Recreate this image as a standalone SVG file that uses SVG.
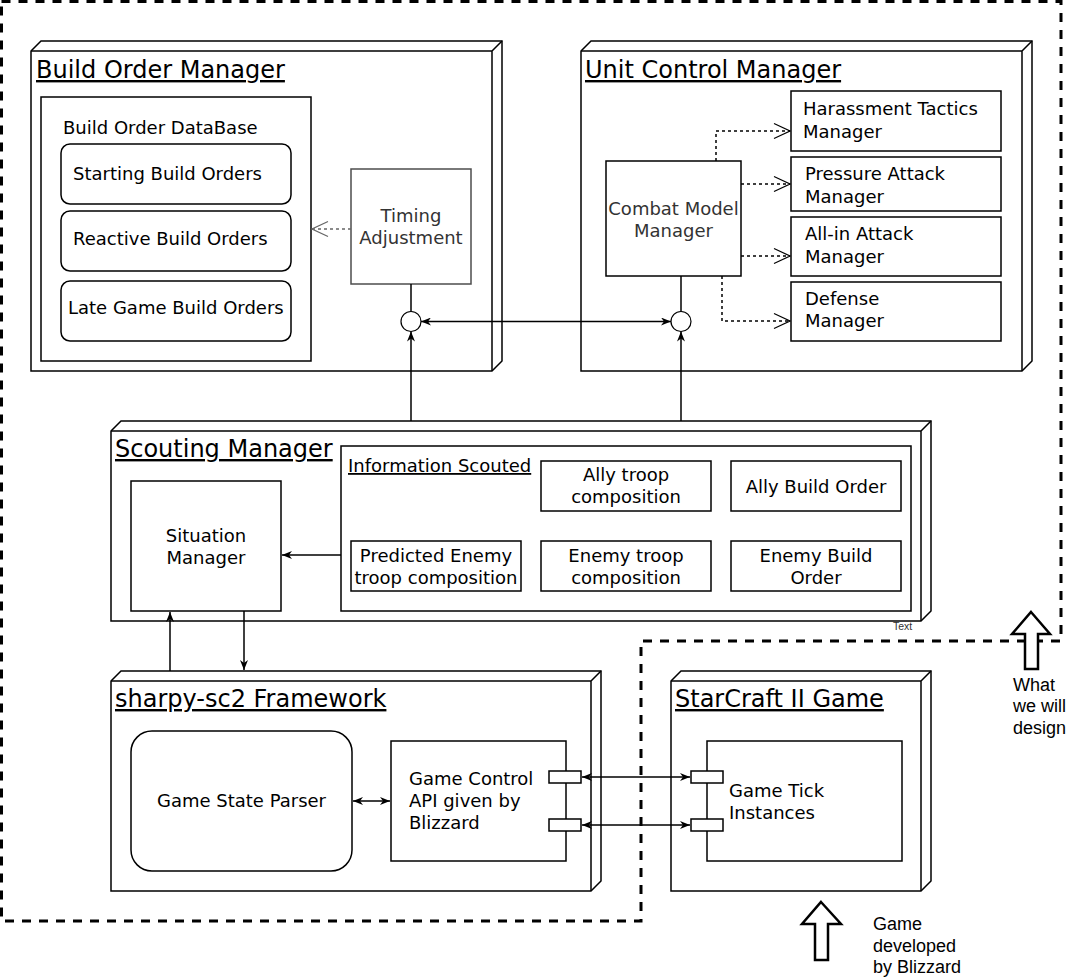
<svg xmlns="http://www.w3.org/2000/svg" width="1072" height="979" viewBox="0 0 1072 979">
<style>
.n3{fill:#fff;stroke:#000;stroke-width:1.5}
.edge{fill:none;stroke:#000;stroke-width:1.5}
.box{fill:#fff;stroke:#000;stroke-width:1.5}
.t{font-family:"DejaVu Sans",Verdana,sans-serif;font-size:18px;fill:#000}
.tt{font-family:"DejaVu Sans",Verdana,sans-serif;font-size:24px;fill:#000;text-decoration:underline}
.u{text-decoration:underline}
.c{text-anchor:middle}
.g{fill:#333}
.conn{fill:none;stroke:#000;stroke-width:1.5}
.dash{stroke-dasharray:3 3}
.note{font-family:"Liberation Sans",Arial,sans-serif;font-size:18px;fill:#000}
.blk{fill:#fff;stroke:#000;stroke-width:2.5;stroke-linejoin:miter}
</style>
<defs>
<marker id="arr" viewBox="0 0 10 8" refX="10" refY="4" markerWidth="10" markerHeight="8" markerUnits="userSpaceOnUse" orient="auto-start-reverse"><path d="M0,0 L10,4 L0,8 L3,4 Z" fill="#000"/></marker>
<marker id="open" viewBox="0 0 18 18" refX="17" refY="9" markerWidth="18" markerHeight="18" markerUnits="userSpaceOnUse" orient="auto"><path d="M1,1.5 L17,9 L1,16.5" fill="none" stroke="#000" stroke-width="1.2"/></marker>
<marker id="openg" viewBox="0 0 18 18" refX="17" refY="9" markerWidth="18" markerHeight="18" markerUnits="userSpaceOnUse" orient="auto"><path d="M1,1.5 L17,9 L1,16.5" fill="none" stroke="#666" stroke-width="1.2"/></marker>
</defs>

<g id="boundary">
<path d="M1.5,1.5 H1061 V641 H641 V921 H1.5 Z" fill="none" stroke="#000" stroke-width="3" stroke-dasharray="9 8"/>
</g>

<g id="build-order-manager">
<path class="n3" d="M31,51 L41,41 H502 V361 L492,371 H31 Z"/>
<path class="edge" d="M31,51 H492 L502,41 M492,51 V371"/>
<text class="tt" x="36" y="78">Build Order Manager</text>
<g id="build-order-database">
<rect class="box" x="41" y="97" width="270" height="264"/>
<text class="t" x="63" y="134">Build Order DataBase</text>
<rect class="box" x="61" y="144" width="230" height="60" rx="9"/>
<text class="t" x="73" y="180">Starting Build Orders</text>
<rect class="box" x="61" y="211" width="230" height="60" rx="9"/>
<text class="t" x="73" y="245">Reactive Build Orders</text>
<rect class="box" x="61" y="281" width="230" height="60" rx="9"/>
<text class="t" x="68" y="314">Late Game Build Orders</text>
</g>
<g id="timing-adjustment">
<rect x="351" y="169" width="120" height="115" fill="#fff" stroke="#4d4d4d" stroke-width="1.5"/>
<text class="t c g" x="411" y="222">Timing</text>
<text class="t c g" x="411" y="243.5">Adjustment</text>
</g>
<circle id="bom-port" cx="411" cy="321.5" r="10" fill="#fff" stroke="#000" stroke-width="1.2"/>
</g>

<g id="unit-control-manager">
<path class="n3" d="M581,51 L591,41 H1032 V361 L1022,371 H581 Z"/>
<path class="edge" d="M581,51 H1022 L1032,41 M1022,51 V371"/>
<text class="tt" x="585" y="78">Unit Control Manager</text>
<g id="combat-model-manager">
<rect class="box" x="606" y="161" width="135" height="115"/>
<text class="t c g" x="673.5" y="215">Combat Model</text>
<text class="t c g" x="673.5" y="236.5">Manager</text>
</g>
<g id="harassment">
<rect class="box" x="791" y="91" width="210" height="60"/>
<text class="t" x="803" y="115">Harassment Tactics</text>
<text class="t" x="803" y="137.5">Manager</text>
</g>
<g id="pressure">
<rect class="box" x="791" y="157" width="210" height="54"/>
<text class="t" x="805" y="180">Pressure Attack</text>
<text class="t" x="805" y="202.5">Manager</text>
</g>
<g id="allin">
<rect class="box" x="791" y="217" width="210" height="59"/>
<text class="t" x="805" y="240">All-in Attack</text>
<text class="t" x="805" y="262.5">Manager</text>
</g>
<g id="defense">
<rect class="box" x="791" y="282" width="210" height="59"/>
<text class="t" x="805" y="304.5">Defense</text>
<text class="t" x="805" y="327">Manager</text>
</g>
<circle id="ucm-port" cx="681" cy="321.5" r="10" fill="#fff" stroke="#000" stroke-width="1.2"/>
</g>

<g id="scouting-manager">
<path class="n3" d="M111,431 L121,421 H931 V611 L921,621 H111 Z"/>
<path class="edge" d="M111,431 H921 L931,421 M921,431 V621"/>
<text class="tt" x="115" y="457">Scouting Manager</text>
<g id="situation-manager">
<rect class="box" x="131" y="481" width="150" height="130"/>
<text class="t c" x="206" y="541.5">Situation</text>
<text class="t c" x="206" y="564">Manager</text>
</g>
<g id="information-scouted">
<rect class="box" x="341" y="446" width="570" height="165"/>
<text class="t u" x="348" y="472">Information Scouted</text>
<rect class="box" x="541" y="461" width="170" height="50"/>
<text class="t c" x="626" y="481">Ally troop</text>
<text class="t c" x="626" y="503">composition</text>
<rect class="box" x="731" y="461" width="170" height="50"/>
<text class="t c" x="816" y="493">Ally Build Order</text>
<rect class="box" x="351" y="541" width="170" height="50"/>
<text class="t c" x="436" y="561.5">Predicted Enemy</text>
<text class="t c" x="436" y="584">troop composition</text>
<rect class="box" x="541" y="541" width="170" height="50"/>
<text class="t c" x="626" y="561.5">Enemy troop</text>
<text class="t c" x="626" y="584">composition</text>
<rect class="box" x="731" y="541" width="170" height="50"/>
<text class="t c" x="816" y="561.5">Enemy Build</text>
<text class="t c" x="816" y="584">Order</text>
</g>
<text x="893" y="630" font-family="Liberation Sans,Arial,sans-serif" font-size="10.5" fill="#333">Text</text>
</g>

<g id="sharpy-framework">
<path class="n3" d="M111,681 L121,671 H601 V881 L591,891 H111 Z"/>
<path class="edge" d="M111,681 H591 L601,671 M591,681 V891"/>
<text class="tt" x="115" y="707">sharpy-sc2 Framework</text>
<g id="game-state-parser">
<rect class="box" x="131" y="731" width="221" height="140" rx="21"/>
<text class="t c" x="241.5" y="807">Game State Parser</text>
</g>
<g id="game-control-api">
<rect class="box" x="391" y="741" width="175" height="120"/>
<text class="t" x="409" y="784.5">Game Control</text>
<text class="t" x="409" y="806.5">API given by</text>
<text class="t" x="409" y="829">Blizzard</text>
<rect class="box" x="549" y="771" width="32" height="12"/>
<rect class="box" x="549" y="819" width="32" height="12"/>
</g>
</g>

<g id="starcraft-game">
<path class="n3" d="M671,681 L681,671 H931 V881 L921,891 H671 Z"/>
<path class="edge" d="M671,681 H921 L931,671 M921,681 V891"/>
<text class="tt" x="675" y="707">StarCraft II Game</text>
<g id="game-tick-instances">
<rect class="box" x="707" y="741" width="195" height="120"/>
<text class="t" x="729" y="796.5">Game Tick</text>
<text class="t" x="729" y="818.5">Instances</text>
<rect class="box" x="691" y="771" width="32" height="12"/>
<rect class="box" x="691" y="819" width="32" height="12"/>
</g>
</g>

<g id="connectors">
<path d="M351,229 H312" fill="none" stroke="#666" stroke-width="1.5" stroke-dasharray="3 3" marker-end="url(#openg)"/>
<path class="conn" d="M411,284 V311.5"/>
<path class="conn" d="M681,276 V311.5"/>
<path class="conn" d="M421,321.5 H671" marker-start="url(#arr)" marker-end="url(#arr)"/>
<path class="conn" d="M411,421 V331.5" marker-end="url(#arr)"/>
<path class="conn" d="M681,421 V331.5" marker-end="url(#arr)"/>
<path class="conn dash" d="M716,161 V131 H790" marker-end="url(#open)"/>
<path class="conn dash" d="M741,184 H790" marker-end="url(#open)"/>
<path class="conn dash" d="M741,256 H790" marker-end="url(#open)"/>
<path class="conn dash" d="M722,276 V321 H790" marker-end="url(#open)"/>
<path class="conn" d="M341,555 H282" marker-end="url(#arr)"/>
<path class="conn" d="M170,671 V612" marker-end="url(#arr)"/>
<path class="conn" d="M244,611 V670" marker-end="url(#arr)"/>
<path class="conn" d="M353,801 H390" marker-start="url(#arr)" marker-end="url(#arr)"/>
<path class="conn" d="M582,777 H690" marker-start="url(#arr)" marker-end="url(#arr)"/>
<path class="conn" d="M582,825 H690" marker-start="url(#arr)" marker-end="url(#arr)"/>
</g>

<g id="we-design">
<path class="blk" d="M1031,612 L1050,634 L1038,634 L1038,669 L1025,669 L1025,634 L1012,634 Z"/>
<text class="note" x="1013" y="690.5">What</text>
<text class="note" x="1013" y="712">we will</text>
<text class="note" x="1013" y="733.5">design</text>
</g>

<g id="blizzard-developed">
<path class="blk" d="M821,902 L841,924 L828,924 L828,960 L815,960 L815,924 L802,924 Z"/>
<text class="note" x="873" y="930">Game</text>
<text class="note" x="873" y="951.5">developed</text>
<text class="note" x="873" y="973">by Blizzard</text>
</g>
</svg>
